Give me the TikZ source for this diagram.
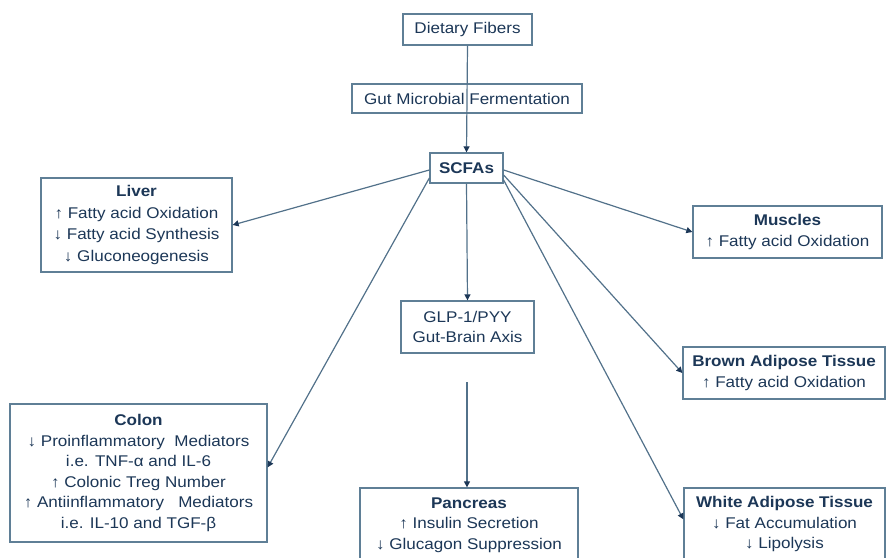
\documentclass[tikz,border=0pt]{standalone}
\usepackage{fontspec}
\setmainfont[FakeStretch=1.1]{Liberation Sans}
\usetikzlibrary{arrows.meta,calc}
\definecolor{txt}{HTML}{1C3757}
\definecolor{brd}{HTML}{5F7F96}
\definecolor{lin}{HTML}{52718A}
\begin{document}
\begin{tikzpicture}[x=1pt,y=-1pt,
 box/.style={draw=brd,line width=1.3pt,fill=white,text=txt,align=center,inner sep=0pt,
   font=\fontsize{15.5}{20.5}\selectfont},
 arr/.style={draw=lin,line width=1.2pt,-{Triangle[length=6pt,width=6pt,color=txt]}}]
\useasboundingbox (0,0) rectangle (886,557);
\clip (0,0) rectangle (886,557);
\node[box,minimum width=129pt,minimum height=31pt] (fib) at (467.5,29.5) {Dietary Fibers};
\node[box,minimum width=230pt,minimum height=29pt] (gut) at (467,98.5) {Gut Microbial Fermentation};
\node[box,minimum width=73pt,minimum height=30pt] (scfa) at (466.5,168) {\bfseries SCFAs};
\node[box,minimum width=191pt,minimum height=94pt,font=\fontsize{15.5}{21.5}\selectfont] (liver) at (136.5,225)
  {{\bfseries Liver}\\↑ Fatty acid Oxidation\\↓ Fatty acid Synthesis\\↓ Gluconeogenesis};
\node[box,minimum width=257pt,minimum height=138pt] (colon) at (138.5,473)
  {{\bfseries Colon}\\↓ Proinflammatory\ \ Mediators\\i.e. TNF-α and IL-6\\↑ Colonic Treg Number\\↑ Antiinflammatory\ \ \ Mediators\\i.e. IL-10 and TGF-β};
\node[box,minimum width=133pt,minimum height=52pt] (glp) at (467.5,327) {GLP-1/PYY\\Gut-Brain Axis};
\node[box,minimum width=218pt,minimum height=74pt] (panc) at (469,525)
  {{\bfseries Pancreas}\\↑ Insulin\ Secretion\\↓ Glucagon\ Suppression};
\node[box,minimum width=189pt,minimum height=52pt] (musc) at (787.5,232)
  {{\bfseries Muscles}\\↑ Fatty acid Oxidation};
\node[box,minimum width=202pt,minimum height=52pt] (brown) at (784,373)
  {{\bfseries Brown Adipose Tissue}\\↑ Fatty acid Oxidation};
\node[box,minimum width=201pt,minimum height=72pt] (white) at (784.5,524)
  {{\bfseries White Adipose Tissue}\\↓ Fat Accumulation\\↓ Lipolysis};
\coordinate (g2) at (467,382);
\draw[arr] (fib.south) -- (scfa.north);
\draw[arr] ([yshift=-2pt]scfa.west) -- (liver.east);
\draw[arr] ([yshift=-10pt]scfa.west) -- ([yshift=-64pt]colon.north east);
\draw[arr] (scfa.south) -- (glp.north);
\draw[arr] (g2) -- (g2 |- panc.north);
\draw[arr] ([yshift=-2pt]scfa.east) -- (musc.west);
\draw[arr] ([yshift=-7pt]scfa.east) -- (brown.west);
\draw[arr] ([yshift=-12pt]scfa.east) -- ([yshift=-32pt]white.north west);
\end{tikzpicture}
\end{document}
